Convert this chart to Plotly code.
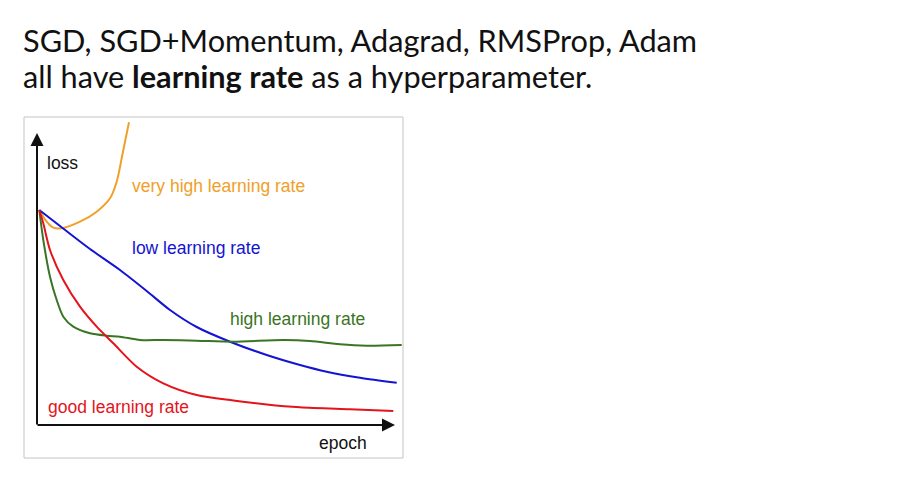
import plotly.graph_objects as go

# curve values (epoch and loss in arbitrary units, no ticks)
very_high_x = [2.3, 9.7, 16.3, 24.7, 43, 59.7, 73, 79.7, 84.7, 88, 92]
very_high_y = [215, 203.3, 197.3, 196.7, 203.3, 213.3, 226.7, 243.3, 266.7, 283.3, 302.7]

low_x = [2.3, 23, 53, 83, 109.7, 133, 159.7, 193, 229.7, 263, 289.7, 323, 359.7]
low_y = [215, 199, 176, 155, 134, 115, 98, 83.3, 70, 60, 53.3, 47.3, 42.3]

high_x = [2.3, 6.3, 13, 19.7, 26.3, 36.3, 53, 69.7, 83, 103, 126, 159.7, 196.3, 246.3, 273, 303, 329.7, 364.7]
high_y = [215, 185, 148.3, 125, 108.3, 98.3, 91.7, 89.3, 88.3, 85, 85, 84.3, 83.3, 85, 84, 80.7, 79.3, 80]

good_x = [2.3, 6.3, 13, 26.3, 43, 59.7, 76.3, 99.7, 126.3, 159.7, 196.3, 229.7, 263, 313, 356.3]
good_y = [215, 201.7, 175, 145, 118.3, 98.3, 81.7, 58.3, 41.7, 30, 24.5, 20.5, 17.7, 15.7, 14]

series = [
    ("very high learning rate", very_high_x, very_high_y, "#f0a028"),
    ("low learning rate", low_x, low_y, "#1414d2"),
    ("high learning rate", high_x, high_y, "#3a7424"),
    ("good learning rate", good_x, good_y, "#e3141c"),
]

# where each curve's label sits (epoch, loss)
label_pos = {
    "very high learning rate": (93, 239),
    "low learning rate": (93, 177),
    "high learning rate": (191, 106),
    "good learning rate": (9, 18),
}

LBL_FONT = "Liberation Sans, Arial"

fig = go.Figure()
for name, xs, ys, col in series:
    fig.add_trace(go.Scatter(x=xs, y=ys, mode="lines", name=name,
                             line=dict(color=col, width=2, shape="spline", smoothing=0.8),
                             hoverinfo="skip"))
    lx, ly = label_pos[name]
    fig.add_annotation(x=lx, y=ly, text=name, showarrow=False, xanchor="left", yanchor="middle",
                       font=dict(family=LBL_FONT, size=17.5, color=col))

# axis arrows
fig.add_annotation(x=0, y=292, ax=0, ay=-1, axref="x", ayref="y", text="",
                   showarrow=True, arrowhead=2, arrowsize=1.3, arrowwidth=2, arrowcolor="#111")
fig.add_annotation(x=358, y=0, ax=-1, ay=0, axref="x", ayref="y", text="",
                   showarrow=True, arrowhead=2, arrowsize=1.3, arrowwidth=2, arrowcolor="#111")
fig.add_annotation(x=8, y=262, text="loss", showarrow=False, xanchor="left", yanchor="middle",
                   font=dict(family=LBL_FONT, size=17.5, color="#111"))
fig.add_annotation(x=280, y=-18, text="epoch", showarrow=False, xanchor="left", yanchor="middle",
                   font=dict(family=LBL_FONT, size=17.5, color="#111"))

# slide text above the picture
fig.add_annotation(xref="paper", yref="paper", x=-0.007, y=1.225, xanchor="left", yanchor="middle",
                   text="SGD, SGD+Momentum, Adagrad, RMSProp, Adam", showarrow=False,
                   font=dict(family="Lato", size=30.7, color="#111"))
fig.add_annotation(xref="paper", yref="paper", x=-0.007, y=1.12, xanchor="left", yanchor="middle",
                   text="all have <b>learning rate</b> as a hyperparameter.", showarrow=False,
                   font=dict(family="Lato", size=30.7, color="#111"))

# light frame round the picture
fig.add_shape(type="rect", xref="paper", yref="paper", x0=0, y0=0, x1=1, y1=1,
              line=dict(color="#c4c4c4", width=1))

fig.update_xaxes(range=[-13, 366], visible=False)
fig.update_yaxes(range=[-33, 308], visible=False)
# the page body adds 8px, so the figure is drawn 8px smaller and shifted back
fig.update_layout(
    width=911, height=476,
    margin=dict(l=16, r=516, t=109, b=26),
    paper_bgcolor="white", plot_bgcolor="white",
    showlegend=False,
)

fig.write_html("out.html")
